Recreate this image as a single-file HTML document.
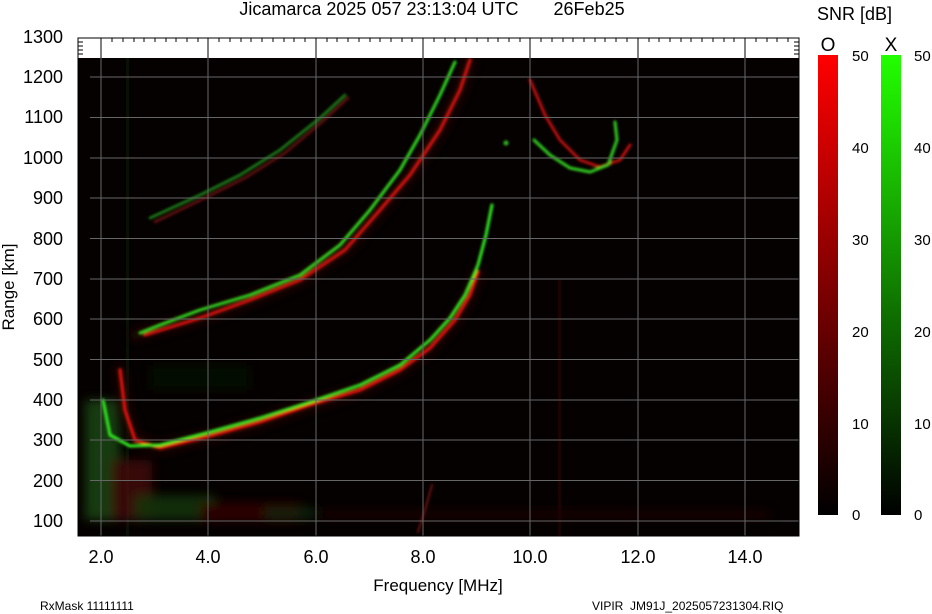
<!DOCTYPE html>
<html><head><style>
body{margin:0;background:#fff;width:932px;height:614px;overflow:hidden;font-family:"Liberation Sans",sans-serif}
svg{position:absolute;left:0;top:0}
</style></head><body>
<svg width="932" height="614" xmlns="http://www.w3.org/2000/svg" font-family="Liberation Sans, sans-serif">
<defs>
<filter id="b1" x="-20%" y="-20%" width="140%" height="140%"><feGaussianBlur stdDeviation="1.3"/></filter>
<filter id="b2" x="-20%" y="-20%" width="140%" height="140%"><feGaussianBlur stdDeviation="5"/></filter>
<linearGradient id="gr" x1="0" y1="1" x2="0" y2="0"><stop offset="0" stop-color="#000"/><stop offset="1" stop-color="#ff0000"/></linearGradient>
<linearGradient id="gg" x1="0" y1="1" x2="0" y2="0"><stop offset="0" stop-color="#000"/><stop offset="1" stop-color="#22ff00"/></linearGradient>
<clipPath id="cp"><rect x="78" y="58" width="721" height="478"/></clipPath>
</defs>
<text x="432" y="15" font-size="18" text-anchor="middle">Jicamarca 2025 057 23:13:04 UTC&#160;&#160;&#160;&#160;&#160;&#160;&#160;26Feb25</text>
<rect x="78" y="38" width="721" height="498" fill="#fff" stroke="#000"/>
<rect x="78" y="58" width="721" height="478" fill="#060101"/>
<g clip-path="url(#cp)">
<rect x="126" y="58" width="3" height="478" fill="#0b200b" opacity=".5"/>
<rect x="558" y="280" width="3" height="256" fill="#300606" opacity=".5"/>
<g filter="url(#b2)" opacity=".75">
<rect x="85" y="400" width="35" height="120" fill="#1a5014"/>
<rect x="112" y="460" width="40" height="60" fill="#4a0c0c"/>
<rect x="135" y="495" width="80" height="25" fill="#1a4a12" opacity=".8"/>
<rect x="200" y="503" width="100" height="18" fill="#3a0606"/>
<rect x="265" y="507" width="50" height="12" fill="#143a0e" opacity=".7"/>
<rect x="320" y="510" width="450" height="9" fill="#1a0303"/>
<rect x="150" y="365" width="100" height="25" fill="#0a200a" opacity=".5"/>
</g>
<g fill="none" stroke-linecap="round" filter="url(#b2)" opacity=".7">
<polyline stroke="#300805" stroke-width="10" points="135,335 200,318 250,300 300,280 345,250 380,210 410,175 440,130 460,90 470,60"/>
<polyline stroke="#300805" stroke-width="10" points="120,370 125,410 135,440 160,448 210,436 260,422 310,405 360,390 400,370 430,348 455,320 470,295 478,272"/>
</g>
<g fill="none" stroke-linecap="round" stroke-linejoin="round" filter="url(#b1)">
<polyline stroke="#5a0a0a" stroke-width="3" points="155,222 205,198 245,178 285,153 322,122 348,98"/>
<polyline stroke="#1f8a1a" stroke-width="2.5" points="150,218 200,195 240,175 280,150 320,118 345,95"/>
<polyline stroke="#d01010" stroke-width="3.5" points="145,335 200,318 250,300 300,280 345,250 380,210 410,175 440,130 460,90 470,60"/>
<polyline stroke="#30e020" stroke-width="3" points="140,333 160,325 200,310 250,295 300,275 340,245 370,210 400,170 420,135 440,95 455,62"/>
<polyline stroke="#e01010" stroke-width="3.5" points="120,370 125,410 135,440 160,448 210,436 260,422 310,405 360,390 400,370 430,348 455,320 470,295 478,272"/>
<polyline stroke="#30f020" stroke-width="3" points="103,400 110,435 130,446 160,445 210,432 260,418 310,402 360,385 400,365 430,340 450,318 465,295 478,265 486,235 492,205"/>
<polyline stroke="#c01010" stroke-width="3" points="530,80 545,115 560,140 580,160 600,167 620,160 630,145"/>
<polyline stroke="#30d020" stroke-width="3" points="534,140 550,155 570,168 590,172 608,165 617,140 615,122"/>
<circle cx="506" cy="143" r="2.5" fill="#30c020"/>
<polyline stroke="#5a1010" stroke-width="2.5" points="418,532 425,510 432,485"/>
</g>
</g>
<g stroke="#666" stroke-width="1">
<line x1="101" y1="38" x2="101" y2="536"/><line x1="208" y1="38" x2="208" y2="536"/><line x1="316" y1="38" x2="316" y2="536"/><line x1="423" y1="38" x2="423" y2="536"/><line x1="530" y1="38" x2="530" y2="536"/><line x1="638" y1="38" x2="638" y2="536"/><line x1="745" y1="38" x2="745" y2="536"/>
<line x1="90" y1="77" x2="799" y2="77"/><line x1="90" y1="117.5" x2="799" y2="117.5"/><line x1="90" y1="158" x2="799" y2="158"/><line x1="90" y1="198" x2="799" y2="198"/><line x1="90" y1="238.5" x2="799" y2="238.5"/><line x1="90" y1="279" x2="799" y2="279"/><line x1="90" y1="319" x2="799" y2="319"/><line x1="90" y1="359.5" x2="799" y2="359.5"/><line x1="90" y1="400" x2="799" y2="400"/><line x1="90" y1="440" x2="799" y2="440"/><line x1="90" y1="480.5" x2="799" y2="480.5"/><line x1="90" y1="521" x2="799" y2="521"/>
</g>
<g stroke="#000"><line x1="101" y1="38" x2="101" y2="58"/><line x1="208" y1="38" x2="208" y2="58"/><line x1="316" y1="38" x2="316" y2="58"/><line x1="423" y1="38" x2="423" y2="58"/><line x1="530" y1="38" x2="530" y2="58"/><line x1="638" y1="38" x2="638" y2="58"/><line x1="745" y1="38" x2="745" y2="58"/>
<path d="M112 38v4M123 38v4M134 38v4M144 38v4M155 38v4M166 38v4M176 38v4M187 38v4M198 38v4M219 38v4M230 38v4M241 38v4M251 38v4M262 38v4M273 38v4M284 38v4M294 38v4M305 38v4M327 38v4M337 38v4M348 38v4M359 38v4M370 38v4M380 38v4M391 38v4M402 38v4M412 38v4M434 38v4M445 38v4M455 38v4M466 38v4M477 38v4M488 38v4M498 38v4M509 38v4M520 38v4M541 38v4M552 38v4M563 38v4M573 38v4M584 38v4M595 38v4M605 38v4M616 38v4M627 38v4M649 38v4M659 38v4M670 38v4M681 38v4M691 38v4M702 38v4M713 38v4M724 38v4M734 38v4M756 38v4M767 38v4M777 38v4M788 38v4M78 42h5M78 46h5M78 50h5M78 54h5M799 42h-5M799 46h-5M799 50h-5M799 54h-5"/></g>
<rect x="78" y="38" width="721" height="498" fill="none" stroke="#000"/>
<g font-size="18" text-anchor="end">
<text x="63" y="43">1300</text><text x="63" y="83">1200</text><text x="63" y="123">1100</text><text x="63" y="164">1000</text><text x="63" y="204">900</text><text x="63" y="245">800</text><text x="63" y="285">700</text><text x="63" y="325">600</text><text x="63" y="366">500</text><text x="63" y="406">400</text><text x="63" y="446">300</text><text x="63" y="487">200</text><text x="63" y="527">100</text>
</g>
<text transform="translate(14,287) rotate(-90)" font-size="17" text-anchor="middle">Range [km]</text>
<g font-size="18" text-anchor="middle">
<text x="101" y="563">2.0</text><text x="208" y="563">4.0</text><text x="316" y="563">6.0</text><text x="423" y="563">8.0</text><text x="530" y="563">10.0</text><text x="638" y="563">12.0</text><text x="745" y="563">14.0</text>
</g>
<text x="438" y="591" font-size="17" text-anchor="middle">Frequency [MHz]</text>
<text x="40" y="610" font-size="12">RxMask 11111111</text>
<text x="592" y="610" font-size="12">VIPIR&#160;&#160;JM91J_2025057231304.RIQ</text>
<text x="817" y="20" font-size="18">SNR [dB]</text>
<text x="828" y="51" font-size="19" text-anchor="middle">O</text>
<text x="891" y="51" font-size="19" text-anchor="middle">X</text>
<rect x="818" y="55" width="20" height="460" fill="url(#gr)"/>
<rect x="881" y="55" width="20" height="460" fill="url(#gg)"/>
<g font-size="15">
<text x="852" y="61">50</text><text x="852" y="153">40</text><text x="852" y="245">30</text><text x="852" y="337">20</text><text x="852" y="429">10</text><text x="852" y="520">0</text>
<text x="914" y="61">50</text><text x="914" y="153">40</text><text x="914" y="245">30</text><text x="914" y="337">20</text><text x="914" y="429">10</text><text x="914" y="520">0</text>
</g>
</svg>
</body></html>
